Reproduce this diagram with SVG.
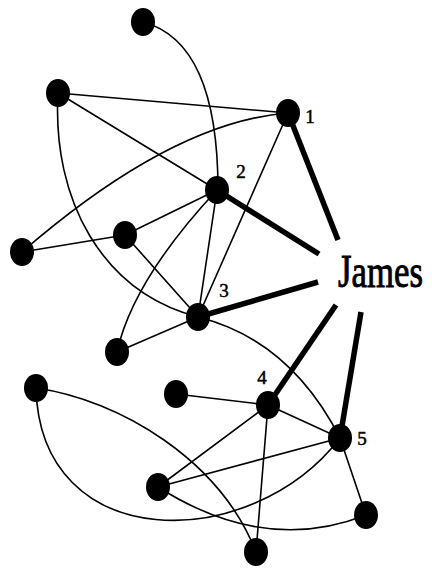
<svg xmlns="http://www.w3.org/2000/svg" width="432" height="570" viewBox="0 0 432 570">
<style>
.bg{fill:#ffffff}
.e{fill:none;stroke:#000;stroke-width:1.6;stroke-linecap:round}
.t{fill:none;stroke:#000;stroke-width:5.5;stroke-linecap:butt}
.n{fill:#000}
.lb{font-family:"Liberation Serif","Times New Roman",serif;font-size:19px;fill:#000;stroke:#000;stroke-width:0.5;text-anchor:middle}
.jm{font-family:"Liberation Serif","Times New Roman",serif;font-size:47px;fill:#000;stroke:#000;stroke-width:1}
</style>
<rect class="bg" x="0" y="0" width="432" height="570"/>
<g id="connectors">
<path class="e" d="M143,22 Q218,42 218,190"/>
<path class="e" d="M58,93 L288,113"/>
<path class="e" d="M58,93 L217,190"/>
<path class="e" d="M58,93 C52,200 102,292 198,317"/>
<path class="e" d="M288,113 Q172,122 22,252"/>
<path class="e" d="M288,113 L198,317"/>
<path class="e" d="M22,252 L125,235"/>
<path class="e" d="M125,235 L217,190"/>
<path class="e" d="M125,235 L198,317"/>
<path class="e" d="M117,352 Q133,280 217,190"/>
<path class="e" d="M117,352 L198,317"/>
<path class="e" d="M217,190 L198,317"/>
<path class="e" d="M198,317 Q290,340 340,438"/>
<path class="e" d="M176,394 L268,405"/>
<path class="e" d="M268,405 L340,438"/>
<path class="e" d="M268,405 L158,487"/>
<path class="e" d="M268,405 L256,552"/>
<path class="e" d="M340,438 L158,487"/>
<path class="e" d="M340,438 L366,515"/>
<path class="e" d="M158,487 Q265,555 366,515"/>
<path class="e" d="M36,388 C120,400 220,460 256,552"/>
<path class="e" d="M36,388 C40,555 250,555 340,438"/>
<path class="t" d="M288,113 L338,240"/>
<path class="t" d="M217,190 L319,254"/>
<path class="t" d="M198,317 L318,282"/>
<path class="t" d="M268,405 L336,305"/>
<path class="t" d="M340,438 L361,312"/>
</g>
<g id="nA"><ellipse class="n" cx="143" cy="22" rx="12" ry="14"/></g>
<g id="nB"><ellipse class="n" cx="58" cy="93" rx="12" ry="14"/></g>
<g id="n1"><ellipse class="n" cx="288" cy="113" rx="12" ry="14"/><text class="lb" x="310" y="123">1</text></g>
<g id="n2"><ellipse class="n" cx="217" cy="190" rx="12" ry="14"/><text class="lb" x="241" y="178">2</text></g>
<g id="nC"><ellipse class="n" cx="22" cy="252" rx="12" ry="14"/></g>
<g id="nD"><ellipse class="n" cx="125" cy="235" rx="12" ry="14"/></g>
<g id="n3"><ellipse class="n" cx="198" cy="317" rx="12" ry="14"/><text class="lb" x="224" y="297">3</text></g>
<g id="nE"><ellipse class="n" cx="117" cy="352" rx="12" ry="14"/></g>
<g id="nF"><ellipse class="n" cx="36" cy="388" rx="12" ry="14"/></g>
<g id="nG"><ellipse class="n" cx="176" cy="394" rx="12" ry="14"/></g>
<g id="n4"><ellipse class="n" cx="268" cy="405" rx="12" ry="14"/><text class="lb" x="262" y="384">4</text></g>
<g id="n5"><ellipse class="n" cx="340" cy="438" rx="12" ry="14"/><text class="lb" x="362" y="445">5</text></g>
<g id="nH"><ellipse class="n" cx="158" cy="487" rx="12" ry="14"/></g>
<g id="nI"><ellipse class="n" cx="366" cy="515" rx="12" ry="14"/></g>
<g id="nJ"><ellipse class="n" cx="256" cy="552" rx="12" ry="14"/></g>
<g id="james"><text class="jm" transform="translate(338,287) scale(0.74,1)" x="0" y="0">James</text></g>
</svg>
